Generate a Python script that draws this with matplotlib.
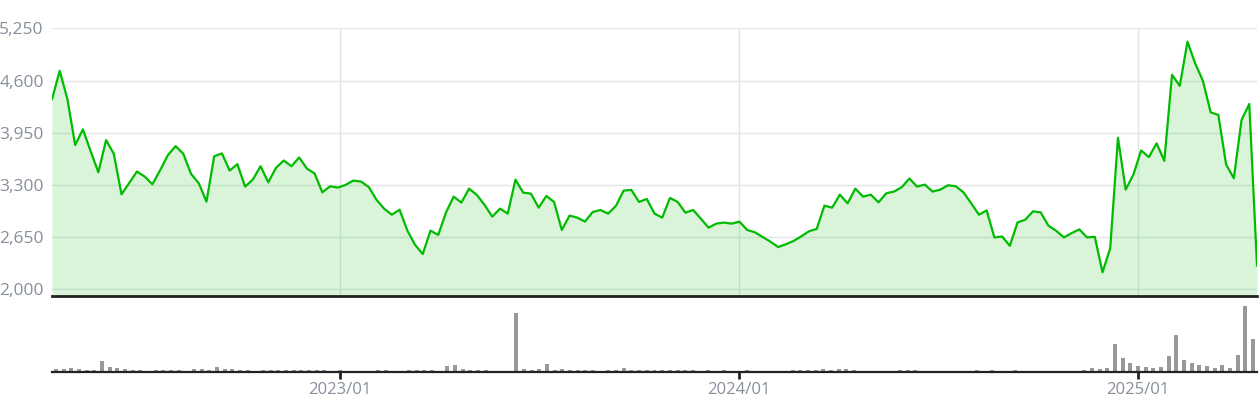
import numpy as np
import pandas as pd
import matplotlib
matplotlib.use('Agg')
import matplotlib.pyplot as plt
from matplotlib.ticker import FuncFormatter

plt.rcParams['font.family'] = ['Open Sans', 'DejaVu Sans']

# weekly closes
dates = pd.date_range('2022-04-22', periods=157, freq='7D')

price = [4367, 4721, 4367, 3796, 3992, 3721, 3458, 3858, 3688, 3183,
         3325, 3467, 3404, 3308, 3483, 3671, 3783, 3688, 3438, 3321,
         3092, 3658, 3692, 3479, 3558, 3279, 3367, 3533, 3333, 3513,
         3604, 3533, 3642, 3504, 3442, 3208, 3283, 3267, 3300, 3354,
         3342, 3275, 3117, 3004, 2929, 2992, 2733, 2554,
         2440, 2731, 2677, 2955, 3155, 3080, 3254, 3175, 3051, 2905,
         3005, 2943, 3366, 3204, 3192, 3017, 3163, 3088, 2739, 2918,
         2893, 2843, 2963, 2988, 2943, 3038, 3229, 3238, 3088, 3125,
         2943, 2893, 3138, 3088, 2955, 2988, 2880, 2768, 2818, 2831,
         2818, 2843, 2739, 2710, 2652, 2594, 2527, 2561, 2602, 2660,
         2723, 2752,
         3042, 3017, 3179, 3071, 3254, 3154, 3179, 3083, 3196, 3217,
         3271, 3379, 3279, 3304, 3217, 3242, 3296, 3283, 3208, 3071,
         2929, 2983, 2646, 2658, 2542, 2833, 2867, 2971, 2958, 2792,
         2729, 2646, 2700, 2746, 2646, 2654, 2212, 2513, 3888, 3242,
         3429, 3729, 3646, 3817, 3600, 4671, 4533, 5083, 4813, 4596,
         4204, 4171, 3554, 3383, 4108, 4308, 2296]

volume = [2, 2, 3, 2, 1, 1, 10, 4, 3, 2, 1, 1, 0, 1, 1, 1, 1, 0, 2, 2,
          1, 4, 2, 2, 1, 1, 0, 1, 1, 1, 1, 1, 1, 1, 1, 1, 0, 1, 0, 0,
          0, 0, 1, 1, 0, 0, 1, 1, 1, 1, 0, 5, 6, 2, 1, 1, 1, 0, 0, 0,
          58, 2, 1, 2, 7, 1, 2, 1, 1, 1, 1, 0, 1, 1, 3, 1, 1, 1, 1, 1,
          1, 1, 1, 1, 0, 1, 0, 1, 0, 0, 1, 0, 0, 0, 0, 0, 1, 1, 1, 1,
          2, 1, 2, 2, 1, 0, 0, 0, 0, 0, 1, 1, 1, 0, 0, 0, 0, 0, 0, 0,
          1, 0, 1, 0, 0, 1, 0, 0, 0, 0, 0, 0, 0, 0, 1, 3, 2, 3, 27, 13,
          8, 5, 4, 3, 4, 15, 36, 11, 8, 6, 5, 3, 6, 3, 16, 65, 32]

price_ticks = [2000, 2650, 3300, 3950, 4600, 5250]

line_color = '#00bb00'
grid_color = '#e3e5e9'
text_color = '#878f9b'

n = len(price)
x = np.arange(n)

# first week of each new year
year_idx = [i for i in range(1, n) if dates[i].year != dates[i - 1].year]
year_labels = [dates[i].strftime('%Y/%m') for i in year_idx]

fig = plt.figure(figsize=(12.59, 4.0), dpi=100)
ax = fig.add_axes([52 / 1259, 104 / 400, 1205 / 1259, 268 / 400])
axv = fig.add_axes([52 / 1259, 28 / 400, 1205 / 1259, 74 / 400])

ymin, ymax = 1917, 5254
ax.fill_between(x, price, ymin, color=line_color, alpha=0.15, lw=0, zorder=1)
ax.plot(x, price, color=line_color, lw=1.6, zorder=3)
ax.set_xlim(0, n - 1)
ax.set_ylim(ymin, ymax)
ax.set_yticks(price_ticks)
ax.yaxis.set_major_formatter(FuncFormatter(lambda v, p: f'{int(v):,}'))
ax.tick_params(axis='y', length=0, pad=6, labelsize=12.5, labelcolor=text_color)
# vertical grid lines line up with the band centres of the volume panel
ax.set_xticks([(i + 0.5) * (n - 1) / n for i in year_idx])
ax.tick_params(axis='x', length=0, labelbottom=False)
ax.grid(True, color=grid_color, lw=1, zorder=0)
ax.set_axisbelow(True)
for s in ['top', 'right', 'left']:
    ax.spines[s].set_visible(False)
ax.spines['bottom'].set_color('#222222')
ax.spines['bottom'].set_linewidth(2)

axv.bar(x, volume, width=0.52, color='#999999')
axv.set_xlim(-0.5, n - 0.5)
axv.set_ylim(-1, 73)
axv.set_yticks([])
axv.set_xticks(year_idx)
axv.set_xticklabels(year_labels)
axv.tick_params(axis='x', direction='out', length=5, width=2, color='#222222',
                pad=2, labelsize=12, labelcolor=text_color)
for s in ['top', 'right', 'left']:
    axv.spines[s].set_visible(False)
axv.spines['bottom'].set_color('#222222')
axv.spines['bottom'].set_linewidth(1.6)

plt.savefig('out.png', dpi=100)
